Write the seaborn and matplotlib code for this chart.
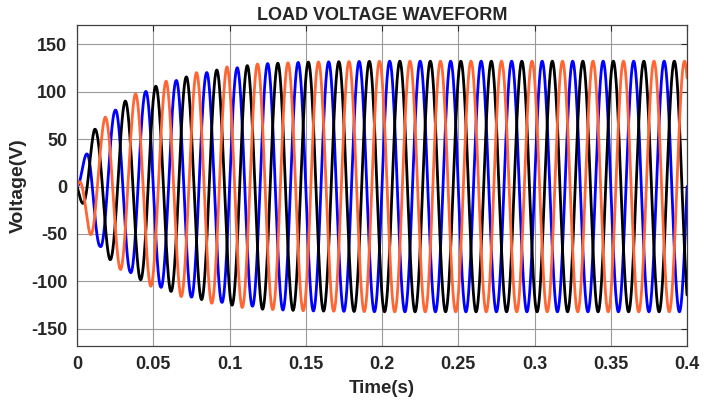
import numpy as np
import pandas as pd
import seaborn as sns
import matplotlib
matplotlib.use('Agg')
import matplotlib.pyplot as plt

env_t = [0, 0.0052, 0.0085, 0.0113, 0.0151, 0.0184, 0.0216, 0.0249, 0.0287, 0.0315,
         0.0348, 0.038, 0.0413, 0.045, 0.0483, 0.0516, 0.0549, 0.0584, 0.0616, 0.065,
         0.068, 0.0715, 0.075, 0.0782, 0.081, 0.0846, 0.088, 0.0916, 0.095, 0.0982,
         0.1015, 0.1047, 0.108, 0.1117, 0.115, 0.1178, 0.15, 0.2, 0.4]
env_v = [0, 31, 50, 60, 63, 73, 77, 80, 88, 90,
         90, 97.5, 98, 100, 105, 105.6, 106, 111, 110.5, 111.6,
         116, 115.4, 116.5, 120, 119, 119.6, 123, 122.7, 122, 126,
         125, 124.8, 127.5, 127.3, 126, 129, 131, 132, 132]

freq = 50  # Hz, 20 cycles in 0.4 s
phases = ['A', 'B', 'C']
phase_deg = [0, -120, 120]
phase_colors = ['#0000FF', '#000000', '#FF6633']

t = np.linspace(0, 0.4, 6001)
env = np.interp(t, env_t, env_v)
frames = []
for name, deg in zip(phases, phase_deg):
    v = env * np.sin(2 * np.pi * freq * t + np.deg2rad(deg))
    frames.append(pd.DataFrame({'t': t, 'v': v, 'phase': name}))
df = pd.concat(frames, ignore_index=True)

sns.set_style('white')
plt.rcParams['font.family'] = ['Liberation Sans', 'DejaVu Sans']
plt.rcParams['axes.unicode_minus'] = False

fig = plt.figure(figsize=(7.04, 4.05), dpi=100)
ax = fig.add_axes([0.1094, 0.1457, 0.8665, 0.7923])

sns.lineplot(data=df, x='t', y='v', hue='phase', palette=phase_colors,
             estimator=None, sort=False, linewidth=2.0, legend=False, ax=ax)

ax.set_xlim(0, 0.4)
ax.set_ylim(-168, 170)
ax.set_xticks(np.arange(0, 0.401, 0.05))
ax.set_xticklabels(['0', '0.05', '0.1', '0.15', '0.2', '0.25', '0.3', '0.35', '0.4'])
ax.set_yticks([-150, -100, -50, 0, 50, 100, 150])
ax.grid(True, color='#9a9a9a', linewidth=0.8)
ax.tick_params(direction='in', length=4, top=True, right=True, width=0.8,
               labelsize=13, colors='#262626', pad=7)
for lab in ax.get_xticklabels() + ax.get_yticklabels():
    lab.set_fontweight('bold')
for s in ax.spines.values():
    s.set_color('#404040')
    s.set_linewidth(0.9)

ax.set_xlabel('Time(s)', fontsize=13.5, fontweight='bold', color='#262626', labelpad=5)
ax.set_ylabel('Voltage(V)', fontsize=14, fontweight='bold', color='#262626', labelpad=3)
ax.set_title('LOAD VOLTAGE WAVEFORM', fontsize=13, fontweight='bold', pad=4)

fig.savefig('out.png', dpi=100)
